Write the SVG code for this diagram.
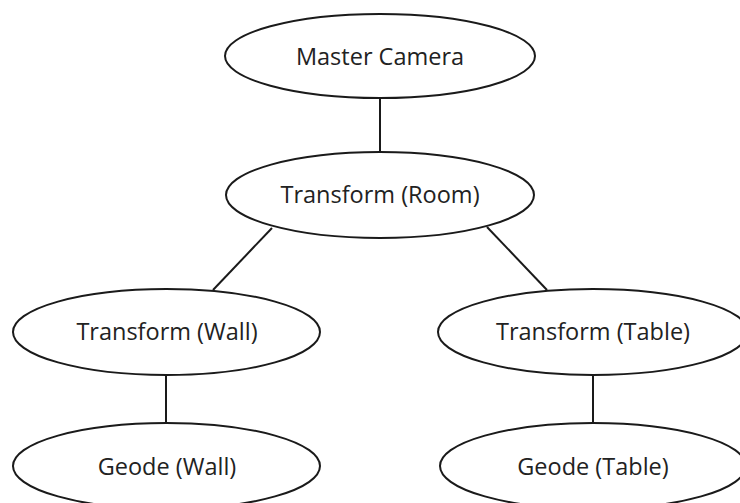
<svg xmlns="http://www.w3.org/2000/svg" width="740" height="503" viewBox="0 0 740 503">
  <style>
    .node ellipse { fill: #ffffff; stroke: #1a1a1a; stroke-width: 2; }
    .node text { font-family: "Open Sans", "Liberation Sans", sans-serif; font-size: 23.5px; fill: #222222; text-anchor: middle; }
    .edges line { stroke: #1a1a1a; stroke-width: 2; }
  </style>
  <rect width="740" height="503" fill="#ffffff"/>

  <!-- tree links -->
  <g id="connectors" class="edges">
    <line x1="380" y1="98" x2="380" y2="153"/>
    <line x1="272" y1="228" x2="213" y2="290"/>
    <line x1="487" y1="227" x2="547" y2="290"/>
    <line x1="166" y1="375" x2="166" y2="423"/>
    <line x1="593" y1="375" x2="593" y2="423"/>
  </g>

  <g id="master-camera" class="node">
    <ellipse cx="380" cy="56" rx="155" ry="42"/>
    <text x="380" y="65">Master Camera</text>
  </g>

  <g id="transform-room" class="node">
    <ellipse cx="380" cy="195" rx="154" ry="43"/>
    <text x="380" y="203">Transform (Room)</text>
  </g>

  <g id="transform-wall" class="node">
    <ellipse cx="166.5" cy="332" rx="153.5" ry="43"/>
    <text x="167" y="340">Transform (Wall)</text>
  </g>

  <g id="transform-table" class="node">
    <ellipse cx="593" cy="332" rx="155" ry="43"/>
    <text x="593" y="340">Transform (Table)</text>
  </g>

  <g id="geode-wall" class="node">
    <ellipse cx="166.5" cy="466" rx="153.5" ry="43"/>
    <text x="167" y="475">Geode (Wall)</text>
  </g>

  <g id="geode-table" class="node">
    <ellipse cx="593" cy="466" rx="153" ry="43"/>
    <text x="593" y="475">Geode (Table)</text>
  </g>
</svg>
